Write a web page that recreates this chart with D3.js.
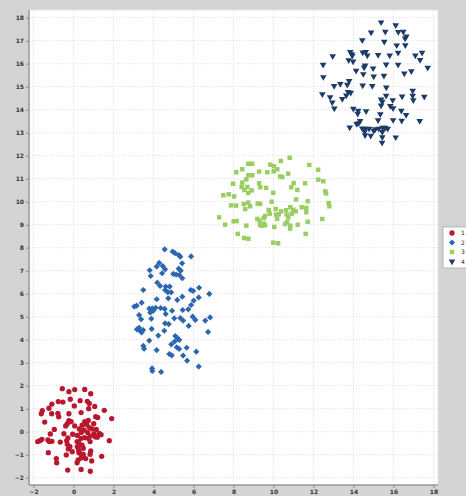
<!DOCTYPE html>
<html>
<head>
<meta charset="utf-8">
<script src="https://cdn.jsdelivr.net/npm/d3@7"></script>
<style>
  html, body { margin: 0; padding: 0; background: #d4d4d4; }
  svg { display: block; }
  .tick text { font-family: "DejaVu Sans", sans-serif; font-size: 6px; font-weight: bold; fill: #333; }
  .grid line { stroke: #dcdcdc; stroke-dasharray: 1.5, 1.5; stroke-width: 0.8; }
  .legend_labels { font-family: "DejaVu Sans", sans-serif; font-size: 6px; fill: #222; }
</style>
</head>
<body>
<svg id="svg-scatter" width="466" height="496"></svg>
<script>
var groups = ["1", "2", "3", "4"];
var colors = ["#b8172d", "#2b66b1", "#9acd62", "#1d3b68"];

var xTicks = [-2, 0, 2, 4, 6, 8, 10, 12, 14, 16, 18];
var yTicks = [-2, -1, 0, 1, 2, 3, 4, 5, 6, 7, 8, 9, 10, 11, 12, 13, 14, 15, 16, 17, 18];

var x1 = [-0.56,-0.23,0.06,0.56,0.86,-0.76,-0.53,-0.16,0.33,0.69,0.79,-1.08,-1.23,-1.56,-1.61,0.04,1.06,1.54,0.76,-1.09,-0.78,-0.23,0.38,-0.74,1.11,1.21,-1.44,-0.23,-0.31,-0.12,0.74,0.56,1.91,0.43,0.06,0.66,1.01,-0.39,-0.96,0.29,0.53,0.79,0.93,1.14,-1.16,-0.48,-0.04,0.19,0.39,0.71,1.02,1.28,1.38,0.84,1.08,0.56,0.73,0.38,-0.28,-1.68,-1.58,-1.79,-1.28,-1.08,-1.21,-0.34,0.18,0.26,0.83,1.19,1.79,-0.31,0.43,-0.26,-0.18,0.19,0.26,0.31,-0.06,0.49,0.86,0.83,-1.26,-0.36,0.27,0.38,0.49,1.41,-0.86,-0.84,0.23,0.61,0.91,0.18,0.39,-0.29,0.38,0.84,-0.66];
var y1 = [1.87,1.74,1.83,1.84,1.65,1.31,1.29,1.41,1.35,1.32,1.23,1.20,1.02,0.91,0.78,1.12,1.10,0.93,1.00,0.78,0.80,0.78,0.83,0.65,0.65,0.62,0.42,0.48,0.35,0.44,0.49,0.44,0.57,0.28,0.25,0.31,0.35,0.25,0.10,0.12,0.07,0.18,0.12,0.10,-0.10,-0.09,-0.11,-0.16,-0.03,-0.04,-0.10,-0.07,-0.13,-0.19,-0.22,-0.26,-0.29,-0.29,-0.27,-0.39,-0.33,-0.43,-0.36,-0.42,-0.43,-0.39,-0.43,-0.45,-0.43,-0.24,-0.39,-0.55,-0.59,-0.75,-0.65,-0.65,-0.80,-0.58,-0.87,-0.72,-0.84,-0.98,-0.91,-1.01,-0.91,-0.97,-0.99,-1.07,-1.17,-1.35,-1.23,-1.17,-1.27,-1.35,-1.14,-1.67,-1.64,-1.72,-0.45];

var x2 = [4.56,4.96,5.08,5.26,5.34,5.88,4.28,5.43,4.16,4.46,4.58,3.81,5.26,5.36,4.43,4.99,5.13,5.29,3.86,5.44,4.19,4.33,4.61,4.81,4.58,4.71,4.88,3.49,5.86,5.98,6.28,6.79,4.16,4.74,5.19,5.44,6.01,6.26,3.04,3.16,3.41,3.79,3.94,4.11,4.36,4.56,4.93,5.46,5.74,5.88,3.28,3.84,3.99,3.38,3.89,4.61,5.04,5.34,5.48,5.96,6.09,6.59,6.83,3.17,3.33,3.48,3.41,3.28,3.91,4.58,4.54,4.76,5.76,6.73,3.79,4.24,5.09,5.21,5.29,5.06,3.49,3.53,4.16,4.89,5.16,5.28,5.66,6.14,4.79,4.91,5.48,5.68,6.26,3.93,3.94,4.38];
var y2 = [7.93,7.83,7.76,7.68,7.61,7.62,7.34,7.32,7.18,7.20,7.06,7.02,7.09,7.00,6.89,6.86,6.83,6.81,6.77,6.67,6.48,6.34,6.31,6.31,6.16,6.07,6.06,6.16,6.16,6.12,6.26,5.99,5.76,5.80,5.73,5.87,5.70,5.84,5.44,5.48,5.61,5.35,5.36,5.39,5.38,5.34,5.26,5.29,5.32,5.51,5.07,5.18,5.26,4.89,4.91,5.12,4.93,4.94,4.83,5.00,4.86,4.83,4.97,4.45,4.38,4.42,4.32,4.52,4.47,4.71,4.39,4.68,4.60,4.34,3.96,4.18,4.16,4.06,3.99,3.92,3.73,3.61,3.55,3.80,3.67,3.60,3.65,3.48,3.38,3.32,3.31,3.09,2.83,2.75,2.64,2.60];

var x3 = [10.81,10.36,8.74,8.93,9.84,10.02,11.79,8.44,8.14,9.28,9.69,10.01,10.19,12.23,10.73,8.74,8.94,10.33,10.44,8.64,12.24,12.49,7.98,8.44,9.28,8.69,9.34,9.63,11.01,11.58,10.89,11.19,8.41,8.54,8.91,8.74,12.59,12.63,7.49,7.76,8.03,9.99,11.13,9.91,11.71,8.51,8.74,9.21,9.33,7.88,8.13,8.59,8.83,12.76,12.79,9.76,10.11,10.38,10.63,10.84,10.99,11.11,11.41,11.64,10.13,10.26,9.81,9.58,10.66,10.91,10.74,11.64,7.28,9.19,9.29,9.51,10.18,8.16,8.01,10.68,10.58,10.84,11.21,11.71,12.44,7.58,8.64,9.33,9.41,9.58,10.04,10.83,8.21,8.53,8.74,9.99,10.23,11.61,9.51];
var y3 = [11.91,11.77,11.65,11.65,11.61,11.54,11.60,11.41,11.28,11.31,11.28,11.32,11.41,11.39,11.22,11.15,11.15,11.10,11.07,10.97,10.96,10.89,10.78,10.83,10.80,10.64,10.63,10.60,10.81,10.80,10.63,10.51,10.64,10.51,10.49,10.38,10.45,10.36,10.28,10.32,10.23,10.39,10.10,10.00,10.02,9.90,9.96,9.92,9.90,9.84,9.83,9.68,9.80,9.94,9.80,9.64,9.68,9.58,9.63,9.76,9.65,9.58,9.76,9.73,9.44,9.45,9.48,9.38,9.44,9.48,9.32,9.54,9.32,9.25,9.18,9.29,9.26,9.16,9.15,9.12,9.03,8.96,9.00,9.13,9.25,9.00,8.96,8.99,8.96,8.97,8.90,8.83,8.60,8.42,8.39,8.22,8.19,8.60,9.05];

var x4 = [15.38,16.11,14.88,15.59,16.24,16.49,16.64,16.58,14.44,15.54,16.16,16.59,12.96,13.84,13.91,13.94,14.46,14.61,14.69,15.23,15.81,16.23,17.09,17.43,17.33,13.76,13.98,12.48,14.58,14.53,14.98,15.63,16.23,14.13,16.54,16.89,17.71,14.49,15.01,15.52,12.49,13.78,13.03,13.34,13.69,14.46,14.94,15.64,16.96,16.96,16.99,12.44,12.83,12.94,13.04,13.64,13.73,13.86,13.44,15.38,15.44,15.63,15.96,16.43,17.54,15.38,15.84,15.98,13.99,14.23,14.63,15.34,16.39,16.63,17.31,15.98,16.41,15.23,14.33,14.26,14.16,13.81,14.44,14.59,14.78,15.01,15.09,15.26,15.46,15.58,15.71,14.58,14.86,15.44,15.44,16.11,15.43,14.21,14.56];
var y4 = [17.80,17.68,17.36,17.39,17.38,17.39,17.19,17.10,17.02,16.96,16.80,16.81,16.33,16.51,16.42,16.35,16.49,16.51,16.36,16.38,16.36,16.48,16.36,16.48,16.16,16.15,16.10,15.96,15.93,15.84,15.80,15.97,15.96,15.70,15.58,15.68,15.83,15.55,15.45,15.48,15.42,15.25,15.03,15.12,15.09,15.06,15.03,14.97,14.83,14.61,14.41,14.68,14.54,14.32,14.06,14.62,14.77,14.74,14.47,14.45,14.35,14.61,14.42,14.58,14.57,14.19,14.16,14.07,14.04,13.96,13.94,13.81,13.96,13.77,13.51,13.55,13.52,13.54,13.51,13.42,13.38,13.23,13.19,13.18,13.18,13.09,13.15,13.18,13.22,13.22,13.18,12.89,12.87,13.03,12.81,12.80,12.57,13.83,13.05];

var svg = d3.select("#svg-scatter");
var plotLeft = 29, plotRight = 438, plotTop = 10, plotBottom = 485;

var xScale = d3.scaleLinear().domain([-2, 18]).range([33.5, 433.5]);
var yScale = d3.scaleLinear().domain([-2, 18]).range([477.7, 17.7]);

// plot background
svg.append("rect")
    .attr("x", plotLeft)
    .attr("y", plotTop)
    .attr("width", plotRight - plotLeft)
    .attr("height", plotBottom - plotTop)
    .style("fill", "white")
    .style("stroke", "#e4e4e4")
    .style("stroke-width", 1);

// grid
svg.append("g")
    .attr("class", "grid")
    .selectAll("line")
    .data(yTicks)
    .enter()
    .append("line")
    .attr("x1", plotLeft)
    .attr("x2", plotRight)
    .attr("y1", function(d) { return yScale(d); })
    .attr("y2", function(d) { return yScale(d); });
svg.append("g")
    .attr("class", "grid")
    .selectAll("line")
    .data(xTicks)
    .enter()
    .append("line")
    .attr("x1", function(d) { return xScale(d); })
    .attr("x2", function(d) { return xScale(d); })
    .attr("y1", plotTop)
    .attr("y2", plotBottom);

// axes
var xAxis = svg.append("g")
    .attr("transform", "translate(0," + plotBottom + ")")
    .call(d3.axisBottom(xScale).tickValues(xTicks).tickSize(3).tickPadding(2));
var yAxis = svg.append("g")
    .attr("transform", "translate(" + plotLeft + ",0)")
    .call(d3.axisLeft(yScale).tickValues(yTicks).tickSize(3).tickPadding(2));
[xAxis, yAxis].forEach(function(a) {
  a.select(".domain").remove();
  a.selectAll(".tick line").style("stroke", "#888");
});
svg.append("line")
    .attr("x1", plotLeft).attr("x2", plotLeft)
    .attr("y1", plotTop).attr("y2", plotBottom)
    .style("stroke", "#999").style("stroke-width", 1.5);
svg.append("line")
    .attr("x1", plotLeft).attr("x2", plotRight)
    .attr("y1", plotBottom).attr("y2", plotBottom)
    .style("stroke", "#999").style("stroke-width", 1.5);

// points (diamond = square turned 45deg, triangle pointing down)
var symbols = [d3.symbolCircle, d3.symbolSquare, d3.symbolSquare, d3.symbolTriangle];
var sizes = [22, 19, 20, 19];
var turns = [0, 45, 0, 180];
var series = [[x1, y1], [x2, y2], [x3, y3], [x4, y4]];

series.forEach(function(s, k) {
  var pts = s[0].map(function(v, i) { return {x: v, y: s[1][i]}; });
  svg.selectAll("pts" + k)
      .data(pts)
      .enter()
      .append("path")
      .attr("d", d3.symbol().type(symbols[k]).size(sizes[k]))
      .attr("transform", function(d) {
        return "translate(" + xScale(d.x) + "," + yScale(d.y) + ") rotate(" + turns[k] + ")";
      })
      .style("fill", colors[k]);
});

// legend
var legend = svg.append("g").attr("transform", "translate(443,227)");
legend.append("rect")
    .attr("width", 30)
    .attr("height", 41)
    .style("fill", "white")
    .style("stroke", "#aaa")
    .style("stroke-width", 0.8);
legend.selectAll("legend_marks")
    .data(groups)
    .enter()
    .append("path")
    .attr("d", function(d, i) { return d3.symbol().type(symbols[i]).size(sizes[i])(); })
    .attr("transform", function(d, i) {
      return "translate(9," + (6 + i * 9.5) + ") rotate(" + turns[i] + ")";
    })
    .style("fill", function(d, i) { return colors[i]; });
legend.selectAll("legend_labels")
    .data(groups)
    .enter()
    .append("text")
    .attr("class", "legend_labels")
    .attr("x", 18)
    .attr("y", function(d, i) { return 8 + i * 9.5; })
    .text(function(d) { return d; });
</script>
</body>
</html>
